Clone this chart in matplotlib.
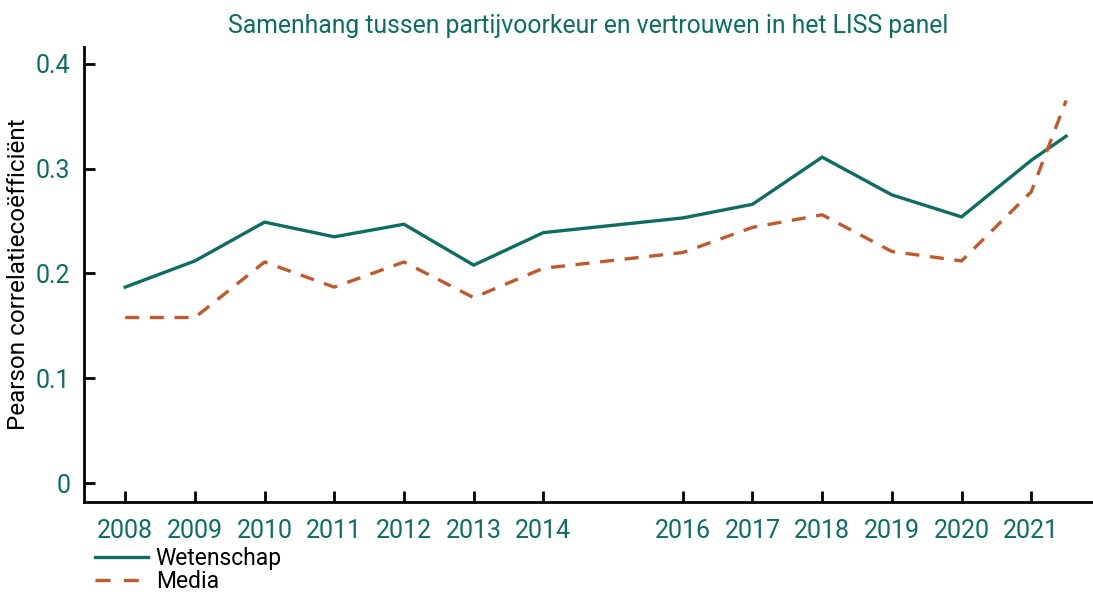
import matplotlib
matplotlib.use("Agg")
import matplotlib.pyplot as plt
from matplotlib.lines import Line2D

# Survey waves (last wave is mid-way through 2021/2022)
years = [2008, 2009, 2010, 2011, 2012, 2013, 2014, 2016, 2017, 2018, 2019, 2020, 2021, 2021.5]
wetenschap = [0.187, 0.212, 0.249, 0.235, 0.247, 0.208, 0.239, 0.253, 0.266, 0.311, 0.275, 0.254, 0.308, 0.331]
media = [0.158, 0.158, 0.211, 0.187, 0.211, 0.177, 0.205, 0.220, 0.244, 0.256, 0.221, 0.212, 0.278, 0.365]

xtick_years = [2008, 2009, 2010, 2011, 2012, 2013, 2014, 2016, 2017, 2018, 2019, 2020, 2021]
ytick_vals = [0, 0.1, 0.2, 0.3, 0.4]
ytick_labels = ["0", "0.1", "0.2", "0.3", "0.4"]

TEAL = "#0b6e60"
ORANGE = "#c0592b"

plt.rcParams["font.family"] = ["Roboto", "DejaVu Sans"]

fig = plt.figure(figsize=(10.93, 5.96), dpi=100)
ax = fig.add_axes([0.0769, 0.1577, 0.9221, 0.7633])

ax.plot(years, wetenschap, color=TEAL, lw=2.4, solid_joinstyle="miter")
ax.plot(years, media, color=ORANGE, lw=2.4, dashes=(4.2, 3.2))

ax.set_xlim(2007.41, 2021.87)
ax.set_ylim(-0.018, 0.416)

ax.set_xticks(xtick_years)
ax.set_xticklabels([str(y) for y in xtick_years])
ax.set_yticks(ytick_vals)
ax.set_yticklabels(ytick_labels)

for side in ("top", "right"):
    ax.spines[side].set_visible(False)
for side in ("left", "bottom"):
    ax.spines[side].set_linewidth(2)
    ax.spines[side].set_color("black")

ax.tick_params(axis="both", direction="in", length=8, width=2, colors="black",
               labelcolor=TEAL, labelsize=18)
ax.tick_params(axis="x", pad=12)
ax.tick_params(axis="y", pad=10)

ax.set_ylabel("Pearson correlatiecoëfficiënt", fontsize=17.5, color="black", labelpad=4)
ax.set_title("Samenhang tussen partijvoorkeur en vertrouwen in het LISS panel",
             fontsize=17.8, color=TEAL, pad=10)

handles = [Line2D([], [], color=TEAL, lw=2.4),
           Line2D([], [], color=ORANGE, lw=2.4, dashes=(4.5, 4.0))]
fig.legend(handles, ["Wetenschap", "Media"], loc="upper left",
           bbox_to_anchor=(0.0869, 1 - 547 / 596), frameon=False, fontsize=16.5,
           handlelength=2.3, handletextpad=0.35, labelspacing=0.02,
           borderaxespad=0, borderpad=0)

fig.savefig("out.png", dpi=100)
